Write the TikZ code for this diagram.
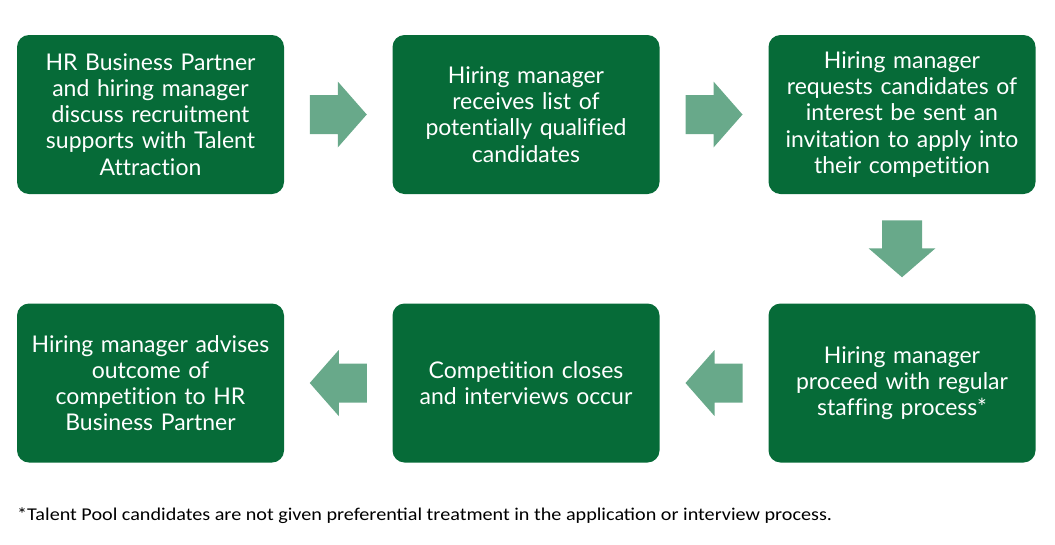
\documentclass[tikz,border=0pt]{standalone}
\usepackage{fontspec}
\setmainfont{Lato}[Ligatures=NoCommon]
\newfontfamily\notefont{Carlito}
\usetikzlibrary{calc}
\definecolor{boxgreen}{HTML}{066B38}
\definecolor{arrowgreen}{HTML}{68A98A}
\tikzset{
  stepbox/.style={rectangle, rounded corners=12pt, fill=boxgreen, text=white,
    minimum width=267pt, minimum height=159pt, text width=260pt, align=center,
    inner sep=0pt, font=\fontsize{23}{26.2}\selectfont},
  harrow/.pic={\fill[arrowgreen] (-28.5,-19.5) -- (-0.5,-19.5) -- (-0.5,-33) -- (28.5,0)
      -- (-0.5,33) -- (-0.5,19.5) -- (-28.5,19.5) -- cycle;},
  varrow/.pic={\fill[arrowgreen] (-20,-28.5) -- (-20,-0.5) -- (-33.5,-0.5) -- (0,28.5)
      -- (33.5,-0.5) -- (20,-0.5) -- (20,-28.5) -- cycle;}
}
\begin{document}
\begin{tikzpicture}[x=1pt,y=-1pt]
\useasboundingbox (0,0) rectangle (1055,544);
\node[stepbox] (b1) at (150.5,114.5) {HR Business Partner\\and hiring manager\\discuss recruitment\\supports with Talent\\Attraction};
\node[stepbox] (b2) at (526,114.5) {Hiring manager\\receives list of\\potentially qualified\\candidates};
\node[stepbox] (b3) at (902,114.5) {Hiring manager\\requests candidates of\\interest be sent an\\invitation to apply into\\their competition};
\node[stepbox] (b6) at (902,383) {Hiring manager\\proceed with regular\\staffing process*};
\node[stepbox] (b5) at (526,383) {Competition closes\\and interviews occur};
\node[stepbox] (b4) at (150.5,383) {Hiring manager advises\\outcome of\\competition to HR\\Business Partner};
\pic at ($(b1.east)!0.5!(b2.west)$) {harrow};
\pic at ($(b2.east)!0.5!(b3.west)$) {harrow};
\pic at ($(b3.south)!0.5!(b6.north)$) {varrow};
\pic[xscale=-1] at ($(b6.west)!0.5!(b5.east)$) {harrow};
\pic[xscale=-1] at ($(b5.west)!0.5!(b4.east)$) {harrow};
\node[anchor=base west, inner sep=0pt, font=\notefont\fontsize{18}{20}\selectfont] (note) at (17,520) {\scalebox{1.12}[1]{*Talent Pool candidates are not given preferential treatment in the application or interview process.}};
\end{tikzpicture}
\end{document}
